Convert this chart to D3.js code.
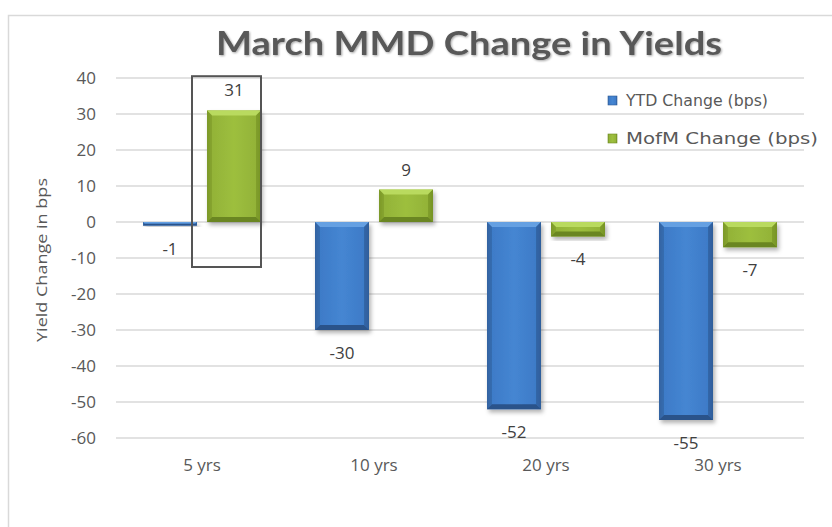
<!DOCTYPE html>
<html><head><meta charset="utf-8">
<script src="https://cdn.jsdelivr.net/npm/d3@7"></script>
<style>body{margin:0;background:#fff}svg{display:block}</style>
</head><body><svg id="c" width="832" height="527"></svg>
<script>
const categories = ["5 yrs", "10 yrs", "20 yrs", "30 yrs"];
const seriesNames = ["YTD Change (bps)", "MofM Change (bps)"];
const ytdValues = [-1, -30, -52, -55];
const mofmValues = [31, 9, -4, -7];
const yTicks = [40, 30, 20, 10, 0, -10, -20, -30, -40, -50, -60];
const titleText = "March MMD Change in Yields";
const yAxisTitle = "Yield Change in bps";

const svg = d3.select("#c");
const plot = {left: 116, right: 804, top: 78, bottom: 438};

const y = d3.scaleLinear().domain([-60, 40]).range([plot.bottom, plot.top]);
const x0 = d3.scaleBand().domain(categories).range([plot.left, plot.right]).paddingInner(0).paddingOuter(0);
const x1 = d3.scaleBand().domain(seriesNames).range([27, 145]).paddingInner(0.15625).paddingOuter(0);

const defs = svg.append("defs");
function hgrad(id, stops){
  const g = defs.append("linearGradient").attr("id", id).attr("x1","0").attr("x2","1").attr("y1","0").attr("y2","0");
  stops.forEach(s => g.append("stop").attr("offset", s[0]).attr("stop-color", s[1]));
}
hgrad("gBlue", [["0%","#3667a6"],["10%","#3e7bc8"],["50%","#4586d2"],["90%","#3e7bc8"],["100%","#2f5c96"]]);
hgrad("gGreen", [["0%","#7d9a2a"],["10%","#93b338"],["50%","#9dbf3e"],["90%","#93b338"],["100%","#6e8a22"]]);
const f = defs.append("filter").attr("id","sh").attr("x","-20%").attr("y","-20%").attr("width","150%").attr("height","150%");
f.append("feDropShadow").attr("dx",2).attr("dy",3).attr("stdDeviation",2).attr("flood-color","#000").attr("flood-opacity",0.3);
const ft = defs.append("filter").attr("id","tsh").attr("x","-5%").attr("y","-20%").attr("width","110%").attr("height","150%");
ft.append("feDropShadow").attr("dx",1).attr("dy",1).attr("stdDeviation",0.8).attr("flood-color","#000").attr("flood-opacity",0.35);

// outer border
svg.append("rect").attr("x",8.5).attr("y",15.5).attr("width",830).attr("height",520)
  .attr("fill","#fff").attr("stroke","#d9d9d9").attr("stroke-width",1.5);

// gridlines
svg.append("g").selectAll("line").data(yTicks).join("line")
  .attr("x1", plot.left).attr("x2", plot.right)
  .attr("y1", d => y(d)).attr("y2", d => y(d))
  .attr("stroke", "#e2e2e2").attr("stroke-width", 2);

// y axis labels
const yAxis = d3.axisLeft(y).tickValues(yTicks).tickFormat(d => String(d)).tickSize(0).tickPadding(0);
const ya = svg.append("g").attr("transform", `translate(96,0)`).call(yAxis);
ya.select(".domain").remove();
ya.selectAll("text").attr("font-family","'Open Sans', sans-serif").attr("font-size",17)
  .attr("fill","#595959").attr("dy","0.35em");

// x axis labels
const xAxis = d3.axisBottom(x0).tickSize(0).tickPadding(0);
const xa = svg.append("g").attr("transform", `translate(0,458)`).call(xAxis);
xa.select(".domain").remove();
xa.selectAll("text").attr("font-family","'Open Sans', sans-serif").attr("font-size",17)
  .attr("fill","#595959").attr("dy","0.35em").attr("y",7);

// y axis title
svg.append("text").attr("transform","translate(47,260) rotate(-90)")
  .attr("text-anchor","middle").attr("font-family","'Open Sans', sans-serif").attr("font-size",15)
  .attr("fill","#595959").attr("textLength",164).attr("lengthAdjust","spacingAndGlyphs").text(yAxisTitle);

// title
svg.append("text").attr("x",469).attr("y",55).attr("text-anchor","middle")
  .attr("font-family","Lato, 'Open Sans', sans-serif").attr("font-weight","bold").attr("font-size",32)
  .attr("fill","#595959").attr("filter","url(#tsh)")
  .attr("textLength",506).attr("lengthAdjust","spacingAndGlyphs").text(titleText);

// bars
const data = [];
categories.forEach((c, i) => {
  data.push({cat: c, s: seriesNames[0], v: ytdValues[i], k: "b"});
  data.push({cat: c, s: seriesNames[1], v: mofmValues[i], k: "g"});
});
const pal = {
  b: {fill: "url(#gBlue)", top: "#65a0e2", bot: "#2a528a", side: "#2f5f9c"},
  g: {fill: "url(#gGreen)", top: "#b9da5e", bot: "#6a8620", side: "#7b9828"}
};
const bars = svg.append("g");
data.forEach(d => {
  const bx = x0(d.cat) + x1(d.s), bw = x1.bandwidth();
  const top = Math.min(y(0), y(d.v)), bot = Math.max(y(0), y(d.v));
  const h = bot - top;
  const b = Math.min(5, h / 2);
  const p = pal[d.k];
  const g = bars.append("g").attr("filter","url(#sh)");
  g.append("rect").attr("x",bx).attr("y",top).attr("width",bw).attr("height",h).attr("fill",p.fill);
  g.append("polygon").attr("points",[[bx,top],[bx+bw,top],[bx+bw-b,top+b],[bx+b,top+b]].join(" ")).attr("fill",p.top);
  g.append("polygon").attr("points",[[bx,bot],[bx+bw,bot],[bx+bw-b,bot-b],[bx+b,bot-b]].join(" ")).attr("fill",p.bot);
  g.append("polygon").attr("points",[[bx,top],[bx+b,top+b],[bx+b,bot-b],[bx,bot]].join(" ")).attr("fill",p.side).attr("opacity",0.5);
  g.append("polygon").attr("points",[[bx+bw,top],[bx+bw-b,top+b],[bx+bw-b,bot-b],[bx+bw,bot]].join(" ")).attr("fill",p.side).attr("opacity",0.7);
  const ly = d.v >= 0 ? y(d.v) - 20 : y(d.v) + 23;
  svg.append("text").attr("x", bx + bw/2).attr("y", ly).attr("dy","0.35em")
    .attr("text-anchor","middle").attr("font-family","'Open Sans', sans-serif").attr("font-size",17)
    .attr("fill","#404040").text(String(d.v));
});

// highlight box around 5 yrs MofM
const hb = {x0: x0(categories[0]) + x1(seriesNames[1]) - 15, x1: x0(categories[0]) + x1(seriesNames[1]) + x1.bandwidth()};
svg.append("rect").attr("x", hb.x0).attr("y", y(40.5)).attr("width", hb.x1 - hb.x0).attr("height", y(-12.5) - y(40.5))
  .attr("fill","none").attr("stroke","#555").attr("stroke-width",2);

// legend
const leg = svg.append("g");
seriesNames.forEach((s, i) => {
  const ly = 101 + i * 38;
  leg.append("rect").attr("x",608).attr("y",ly-5).attr("width",9).attr("height",9)
    .attr("fill", i === 0 ? "url(#gBlue)" : "url(#gGreen)").attr("stroke", i===0?"#2f5c96":"#6e8a22").attr("stroke-width",0.6);
  leg.append("text").attr("x",626).attr("y",ly).attr("dy","0.35em")
    .attr("font-family","'DejaVu Sans', sans-serif").attr("font-size",15).attr("fill","#595959")
    .attr("textLength", i === 0 ? 142 : 192).attr("lengthAdjust","spacingAndGlyphs").text(s);
});
</script></body></html>
